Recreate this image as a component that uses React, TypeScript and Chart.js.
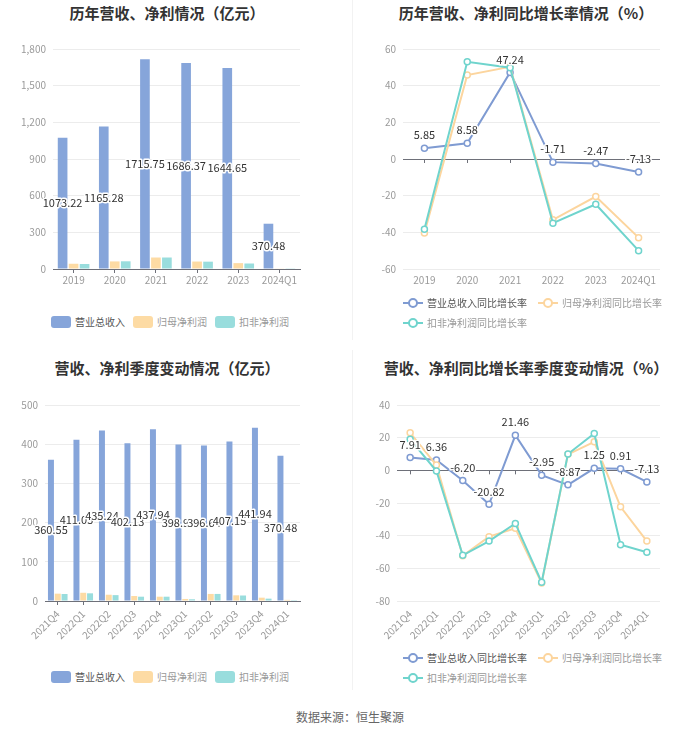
import React, { useEffect, useRef } from "react";
import { Chart, registerables } from "chart.js";
Chart.register(...registerables);

const FONT = '"Noto Sans CJK SC", "Noto Sans", sans-serif';
Chart.defaults.font.family = FONT;

// ---------- data ----------
const annualCategories = ["2019", "2020", "2021", "2022", "2023", "2024Q1"];
const annualRevenue = [1073.22, 1165.28, 1715.75, 1686.37, 1644.65, 370.48];
const annualNetProfit = [43, 62, 94, 61, 48, 2.9];
const annualDeductedProfit = [41, 63, 94, 60, 45, 2.2];
const annualRevenueGrowth = [5.85, 8.58, 47.24, -1.71, -2.47, -7.13];
const annualNetProfitGrowth = [-40.3, 45.8, 50.3, -33.2, -20.5, -42.9];
const annualDeductedGrowth = [-38.3, 53.0, 49.8, -35.0, -24.7, -50.0];

const quarterCategories = ["2021Q4", "2022Q1", "2022Q2", "2022Q3", "2022Q4", "2023Q1", "2023Q2", "2023Q3", "2023Q4", "2024Q1"];
const quarterRevenue = [360.55, 411.05, 435.24, 402.13, 437.94, 398.93, 396.64, 407.15, 441.94, 370.48];
const quarterNetProfit = [18.7, 21, 16, 12.8, 11, 5.2, 18, 14.5, 8.5, 2.9];
const quarterDeductedProfit = [17.9, 19.6, 15, 11, 11, 4.4, 18, 14, 6, 2.2];
const quarterRevenueGrowth = [7.91, 6.36, -6.2, -20.82, 21.46, -2.95, -8.87, 1.25, 0.91, -7.13];
const quarterNetProfitGrowth = [23, 3.2, -52.3, -40.6, -35.5, -69, 9.8, 17.5, -22.3, -43.3];
const quarterDeductedGrowth = [19, -0.4, -52, -43.3, -32.5, -68.5, 10, 22.6, -45.5, -50.2];

const barSeriesNames = ["营业总收入", "归母净利润", "扣非净利润"];
const lineSeriesNames = ["营业总收入同比增长率", "归母净利润同比增长率", "扣非净利润同比增长率"];

// ---------- styles ----------
const BAR_COLORS = ["#86a5da", "#fddba4", "#99dddd"];
const LINE_COLORS = ["#7f9bd2", "#fcd59e", "#6fd4cd"];
const AXIS = "#6e7079";
const GRID = "#ececec";
const TICK = "#9a9a9a";

function valueLabels(datasetIndex: number, mode: "center" | "top") {
  return {
    id: "valueLabels" + mode,
    afterDatasetsDraw(chart: any) {
      const meta = chart.getDatasetMeta(datasetIndex);
      const data = chart.data.datasets[datasetIndex].data as number[];
      const ctx = chart.ctx;
      ctx.save();
      ctx.font = `11px ${FONT}`;
      ctx.textAlign = "center";
      ctx.textBaseline = "middle";
      ctx.lineJoin = "round";
      meta.data.forEach((el: any, i: number) => {
        const text = Number(data[i]).toFixed(2);
        const x = el.x;
        const y = mode === "center" ? (el.y + el.base) / 2 : el.y - 13;
        ctx.strokeStyle = "#fff";
        ctx.lineWidth = 3;
        ctx.strokeText(text, x, y);
        ctx.fillStyle = "#333";
        ctx.fillText(text, x, y);
      });
      ctx.restore();
    },
  };
}

const zeroTicks = {
  id: "zeroTicks",
  beforeDatasetsDraw(chart: any) {
    const xs = chart.scales.x;
    const ys = chart.scales.y;
    const y0 = ys.getPixelForValue(0);
    const ctx = chart.ctx;
    ctx.save();
    ctx.strokeStyle = AXIS;
    ctx.lineWidth = 1;
    for (let i = 0; i < xs.ticks.length; i++) {
      const x = Math.round(xs.getPixelForTick(i)) + 0.5;
      ctx.beginPath();
      ctx.moveTo(x, y0);
      ctx.lineTo(x, y0 + 4);
      ctx.stroke();
    }
    ctx.restore();
  },
};

function barConfig(labels: string[], series: number[][], yMax: number, step: number, yWidth: number, rotate: boolean, xHeight: number, padTop: number) {
  return {
    type: "bar",
    data: {
      labels,
      datasets: series.map((d, i) => ({
        label: barSeriesNames[i],
        data: d,
        backgroundColor: BAR_COLORS[i],
        barPercentage: 0.88,
        categoryPercentage: 0.8,
      })),
    },
    options: {
      responsive: false,
      animation: false,
      layout: { padding: { top: padTop, right: 35, left: 0, bottom: 0 } },
      plugins: { legend: { display: false }, tooltip: { enabled: false } },
      scales: {
        x: {
          grid: { display: true, drawOnChartArea: false, offset: false, tickLength: 4, color: AXIS },
          border: { display: true, color: AXIS },
          ticks: {
            color: TICK,
            font: { size: 10 },
            padding: rotate ? 3 : 1,
            autoSkip: false,
            maxRotation: rotate ? 45 : 0,
            minRotation: rotate ? 45 : 0,
          },
          afterFit: (s: any) => { s.height = xHeight; },
        },
        y: {
          min: 0,
          max: yMax,
          ticks: { stepSize: step, color: TICK, font: { size: 10 }, padding: 7 },
          grid: { color: GRID, drawTicks: false },
          border: { display: false },
          afterFit: (s: any) => { s.width = yWidth; },
        },
      },
    },
    plugins: [valueLabels(0, "center")],
  };
}

function lineConfig(labels: string[], series: number[][], yMin: number, yMax: number, yWidth: number, rotate: boolean, xHeight: number, padTop: number) {
  return {
    type: "line",
    data: {
      labels,
      datasets: series.map((d, i) => ({
        label: lineSeriesNames[i],
        data: d,
        borderColor: LINE_COLORS[i],
        backgroundColor: "#fff",
        pointBackgroundColor: "#fff",
        pointBorderColor: LINE_COLORS[i],
        pointRadius: 3,
        pointBorderWidth: 1.5,
        borderWidth: 2,
        tension: 0,
        order: 3 - i,
      })),
    },
    options: {
      responsive: false,
      animation: false,
      layout: { padding: { top: padTop, right: 40, left: 0, bottom: 0 } },
      plugins: { legend: { display: false }, tooltip: { enabled: false } },
      scales: {
        x: {
          offset: true,
          grid: { display: false, drawTicks: false },
          border: { display: false },
          ticks: {
            color: TICK,
            font: { size: 10 },
            padding: rotate ? 7 : 5,
            autoSkip: false,
            maxRotation: rotate ? 45 : 0,
            minRotation: rotate ? 45 : 0,
          },
          afterFit: (s: any) => { s.height = xHeight; },
        },
        y: {
          min: yMin,
          max: yMax,
          ticks: { stepSize: 20, color: TICK, font: { size: 10 }, padding: 7 },
          grid: {
            drawTicks: false,
            color: (c: any) => (c.tick && c.tick.value === 0 ? AXIS : GRID),
          },
          border: { display: false },
          afterFit: (s: any) => { s.width = yWidth; },
        },
      },
    },
    plugins: [zeroTicks, valueLabels(0, "top")],
  };
}

function ChartCanvas({ left, top, width, height, make }: { left: number; top: number; width: number; height: number; make: () => any }) {
  const ref = useRef<HTMLCanvasElement>(null);
  useEffect(() => {
    const chart = new Chart(ref.current as HTMLCanvasElement, make());
    return () => chart.destroy();
  }, []);
  return (
    <canvas
      ref={ref}
      width={width}
      height={height}
      style={{ position: "absolute", left, top, width, height }}
    />
  );
}

function Title({ text, left, width, top }: { text: string; left: number; width: number; top: number }) {
  return (
    <div
      style={{
        position: "absolute",
        left,
        width,
        top,
        textAlign: "center",
        fontFamily: FONT,
        fontWeight: "bold",
        fontSize: 15,
        lineHeight: "20px",
        color: "#333",
        whiteSpace: "nowrap",
      }}
    >
      {text}
    </div>
  );
}

function BarLegend({ left, top }: { left: number; top: number }) {
  return (
    <div style={{ position: "absolute", left, top, display: "flex", alignItems: "center", fontFamily: FONT, fontSize: 10, lineHeight: "14px" }}>
      {barSeriesNames.map((n, i) => (
        <div key={n} style={{ display: "flex", alignItems: "center", marginRight: 8 }}>
          <div style={{ width: 20, height: 12, borderRadius: 3, background: BAR_COLORS[i], marginRight: 4 }} />
          <span style={{ color: i === 0 ? "#555" : "#999", width: 50 }}>{n}</span>
        </div>
      ))}
    </div>
  );
}

function LineIcon({ color }: { color: string }) {
  return (
    <svg width={20} height={12} style={{ marginRight: 4, display: "block" }}>
      <line x1={0} y1={6} x2={20} y2={6} stroke={color} strokeWidth={2} />
      <circle cx={10} cy={6} r={4} fill="#fff" stroke={color} strokeWidth={2} />
    </svg>
  );
}

function LineLegend({ left, top }: { left: number; top: number }) {
  return (
    <div style={{ position: "absolute", left, top, width: 270, display: "flex", flexWrap: "wrap", alignItems: "center", fontFamily: FONT, fontSize: 10, lineHeight: "14px", rowGap: 6 }}>
      {lineSeriesNames.map((n, i) => (
        <div key={n} style={{ display: "flex", alignItems: "center", marginRight: 11 }}>
          <LineIcon color={LINE_COLORS[i]} />
          <span style={{ color: i === 0 ? "#555" : "#999", width: 100 }}>{n}</span>
        </div>
      ))}
    </div>
  );
}

export default function App() {
  return (
    <div style={{ position: "absolute", left: 0, top: 0, width: 700, height: 734, background: "#fff", overflow: "hidden" }}>
      <div style={{ position: "absolute", left: 352, top: 0, width: 1, height: 340, background: "#f2f2f2" }} />
      <div style={{ position: "absolute", left: 352, top: 350, width: 1, height: 340, background: "#f2f2f2" }} />

      <Title text="历年营收、净利情况（亿元）" left={0} width={334} top={3} />
      <Title text="历年营收、净利同比增长率情况（%）" left={352} width={348} top={3} />
      <Title text="营收、净利季度变动情况（亿元）" left={0} width={334} top={358} />
      <Title text="营收、净利同比增长率季度变动情况（%）" left={352} width={348} top={358} />

      <ChartCanvas
        left={0} top={30} width={335} height={270}
        make={() => barConfig(annualCategories, [annualRevenue, annualNetProfit, annualDeductedProfit], 1800, 300, 53, false, 31, 19)}
      />
      <ChartCanvas
        left={352} top={30} width={348} height={270}
        make={() => lineConfig(annualCategories, [annualRevenueGrowth, annualNetProfitGrowth, annualDeductedGrowth], -60, 60, 51, false, 31, 19)}
      />
      <ChartCanvas
        left={0} top={385} width={335} height={265}
        make={() => barConfig(quarterCategories, [quarterRevenue, quarterNetProfit, quarterDeductedProfit], 500, 100, 45, true, 49, 20)}
      />
      <ChartCanvas
        left={352} top={385} width={348} height={265}
        make={() => lineConfig(quarterCategories, [quarterRevenueGrowth, quarterNetProfitGrowth, quarterDeductedGrowth], -80, 40, 45, true, 49, 20)}
      />

      <BarLegend left={51} top={315} />
      <LineLegend left={403} top={296} />
      <BarLegend left={51} top={670} />
      <LineLegend left={403} top={651} />

      <div style={{ position: "absolute", left: 0, width: 700, top: 709, textAlign: "center", fontFamily: FONT, fontSize: 12, lineHeight: "16px", color: "#666" }}>
        数据来源：恒生聚源
      </div>
    </div>
  );
}
